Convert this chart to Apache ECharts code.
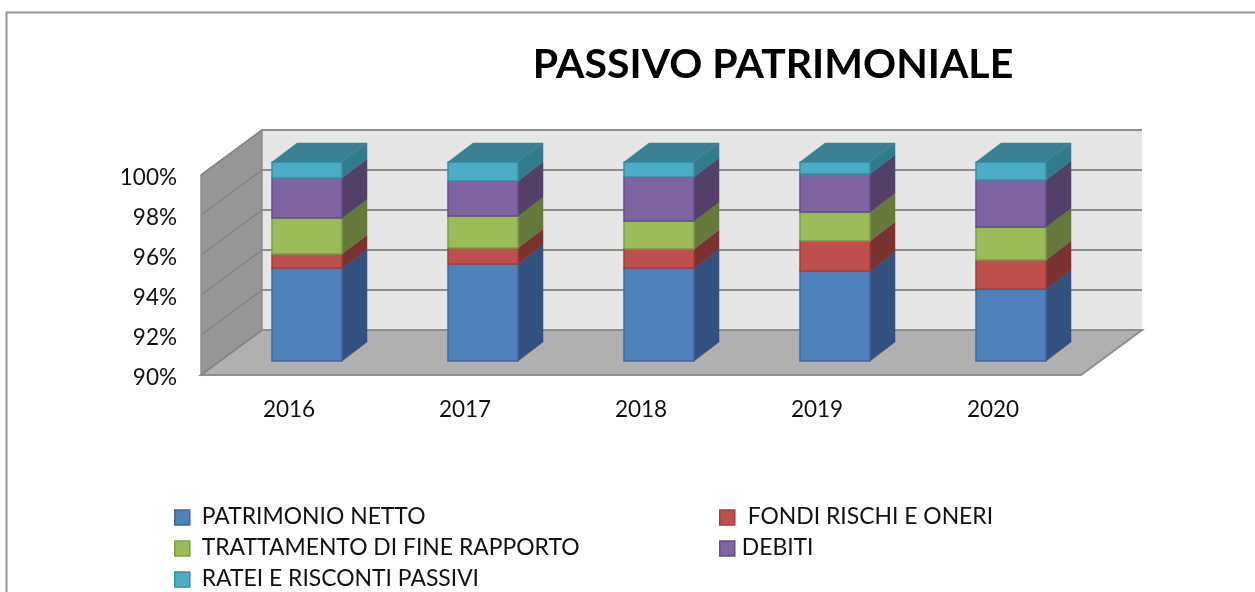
<!DOCTYPE html>
<html><head><meta charset="utf-8">
<style>html,body{margin:0;padding:0;background:#fff}#c{width:1255px;height:592px}</style>
<script src="https://cdn.jsdelivr.net/npm/echarts@6/dist/echarts.min.js"></script>
</head><body><div id="c"></div>
<script>
const categories = ['2016','2017','2018','2019','2020'];
const yTicks = [90,92,94,96,98,100];
const patrimonioNetto = [94.65,94.85,94.65,94.5,93.6];
const fondiRischi = [0.7,0.8,0.95,1.5,1.45];
const trattamentoFine = [1.8,1.6,1.4,1.45,1.65];
const debiti = [2.0,1.75,2.2,1.9,2.35];
const ratei = [0.8,0.95,0.75,0.6,0.9];

const FONT = 'Lato, Carlito, sans-serif';
const TXT = '#111';
const DEPTH_X = 61, DEPTH_Y = 45;         // floor / wall depth
const BAR_DX = 18, BAR_DY = 14;           // bar front plane offset
const BAR_DEPTH_X = 25, BAR_DEPTH_Y = 19; // bar depth
const BAR_W = 70;

const seriesDefs = [
  {name:'PATRIMONIO NETTO', values:patrimonioNetto, color:'#4F81BD', border:'#3F6A9E', side:'#30527C'},
  {name:'FONDI RISCHI E ONERI', values:fondiRischi, color:'#C0504D', border:'#A03F3D', side:'#7A3230'},
  {name:'TRATTAMENTO DI FINE RAPPORTO', values:trattamentoFine, color:'#9BBB59', border:'#7F9A48', side:'#66783A'},
  {name:'DEBITI', values:debiti, color:'#8064A2', border:'#654E82', side:'#533F69'},
  {name:'RATEI E RISCONTI PASSIVI', values:ratei, color:'#4BACC6', border:'#3A8CA3', side:'#327B8E', top:'#388296'}
];

function poly(points, fill, stroke, lw){
  return {type:'polygon', shape:{points}, style:{fill, stroke:stroke||fill, lineWidth:lw==null?1:lw}};
}
function line(a,b,stroke,lw){
  return {type:'line', shape:{x1:a[0],y1:a[1],x2:b[0],y2:b[1]}, style:{stroke, lineWidth:lw}};
}

function extent(api){
  const band = api.size([1,0])[0];
  const bottom = api.coord([0,yTicks[0]])[1];
  const top = api.coord([0,yTicks[yTicks.length-1]])[1];
  const left = api.coord([0,yTicks[0]])[0]-band/2;
  const right = api.coord([categories.length-1,yTicks[0]])[0]+band/2;
  return {left,right,top,bottom};
}

const wallSeries = {
  type:'custom', silent:true, coordinateSystem:'cartesian2d', z:1,
  data:[[0,yTicks[0]]], encode:{x:0,y:1},
  renderItem(p,api){
    const e = extent(api);
    const bx = e.left+DEPTH_X, by = e.bottom-DEPTH_Y, tY = e.top-DEPTH_Y, rx = e.right+DEPTH_X;
    return {type:'group', children:[
      poly([[bx,tY],[rx,tY],[rx,by],[bx,by]],'#E6E6E6','#E6E6E6',0),
      poly([[e.left,e.top],[bx,tY],[bx,by],[e.left,e.bottom]],'#969696','#8E8E8E',1.5),
      poly([[e.left,e.bottom],[bx,by],[rx,by],[e.right,e.bottom]],'#B0B0B0','#8E8E8E',2)
    ]};
  }
};
const gridSeries = {
  type:'custom', silent:true, coordinateSystem:'cartesian2d', z:2,
  data:yTicks.map(v=>[0,v]), encode:{x:0,y:1},
  renderItem(p,api){
    const e = extent(api);
    const y = api.coord([0,api.value(1)])[1];
    return {type:'group', children:[
      line([e.left,y],[e.left+DEPTH_X,y-DEPTH_Y],'#828282',1.5),
      line([e.left+DEPTH_X,y-DEPTH_Y],[e.right+DEPTH_X,y-DEPTH_Y],'#8E8E8E',2)
    ]};
  }
};

let cum = categories.map(()=>0);
const barSeries = seriesDefs.map((d,si)=>{
  const rows = d.values.map((v,i)=>{ const lo=cum[i], hi=lo+v; cum[i]=hi; return [i,lo,hi]; });
  const last = si===seriesDefs.length-1;
  return {
    name:d.name, type:'custom', coordinateSystem:'cartesian2d', z:5+si,
    itemStyle:{color:d.color,borderColor:d.border,borderWidth:1.5},
    data:rows, encode:{x:0,y:2},
    renderItem(p,api){
      const i = api.value(0);
      const lo = Math.max(api.value(1),yTicks[0]), hi = api.value(2);
      const cx = api.coord([i,lo])[0]+BAR_DX;
      const y0 = api.coord([i,lo])[1]-BAR_DY, y1 = api.coord([i,hi])[1]-BAR_DY;
      const l = cx-BAR_W/2, r = cx+BAR_W/2;
      const kids = [
        poly([[r,y1],[r+BAR_DEPTH_X,y1-BAR_DEPTH_Y],[r+BAR_DEPTH_X,y0-BAR_DEPTH_Y],[r,y0]],d.side,d.side,0.5),
        poly([[l,y1],[r,y1],[r,y0],[l,y0]],d.color,d.border,1.5)
      ];
      if(last) kids.push(poly([[l,y1],[l+BAR_DEPTH_X,y1-BAR_DEPTH_Y],[r+BAR_DEPTH_X,y1-BAR_DEPTH_Y],[r,y1]],d.top,d.top,0.5));
      return {type:'group', children:kids};
    }
  };
});

const legendPos = [
  {left:174,top:505,gap:12},
  {left:719,top:505,gap:13},
  {left:174,top:536,gap:12},
  {left:719,top:536,gap:7},
  {left:174,top:567,gap:12}
];

const option = {
  animation:false,
  backgroundColor:'#fff',
  title:{text:'PASSIVO PATRIMONIALE',left:768,top:39,textAlign:'center',
    textStyle:{fontFamily:FONT,fontWeight:'bold',fontSize:41,color:'#000'}},
  grid:{left:201,top:175,width:880,height:200,containLabel:false},
  xAxis:{type:'category',data:categories,axisLine:{show:false},axisTick:{show:false},splitLine:{show:false},
    axisLabel:{margin:23,fontFamily:FONT,fontSize:22.5,color:TXT,hideOverlap:false}},
  yAxis:{type:'value',min:90,max:100,interval:2,axisLine:{show:false},axisTick:{show:false},splitLine:{show:false},
    axisLabel:{margin:24,formatter:'{value}%',fontFamily:FONT,fontSize:22.5,color:TXT,verticalAlign:'top',lineHeight:6}},
  legend:seriesDefs.map((d,i)=>({
    data:[d.name],left:legendPos[i].left,top:legendPos[i].top,orient:'horizontal',
    itemWidth:15,itemHeight:15,itemGap:0,icon:'rect',padding:0,
    selectedMode:false,
    itemStyle:{borderColor:d.border,borderWidth:1.5},
    formatter:name=>'{t|'+name+'}',
    textStyle:{fontFamily:FONT,fontSize:22.9,color:TXT,
      rich:{t:{fontFamily:FONT,fontSize:22.9,color:TXT,padding:[0,0,2,legendPos[i].gap-5]}}}
  })),
  series:[wallSeries,gridSeries].concat(barSeries),
  graphic:[
    {type:'polyline',silent:true,shape:{points:[[6.5,592],[6.5,12.5],[1255,12.5]]},style:{fill:null,stroke:'#949494',lineWidth:2}}
  ]
};
echarts.init(document.getElementById('c'),null,{renderer:'canvas'}).setOption(option);
</script></body></html>
